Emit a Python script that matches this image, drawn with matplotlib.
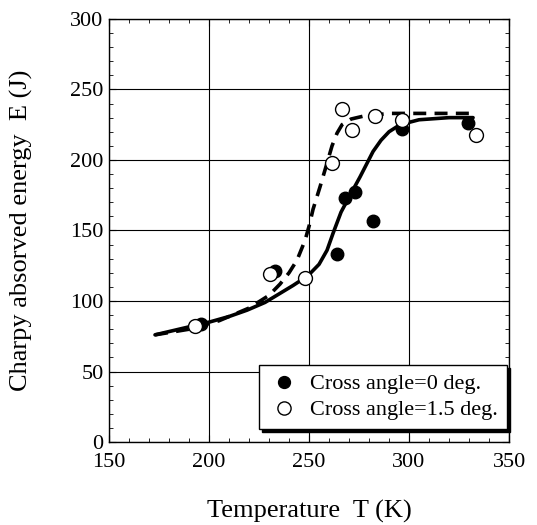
import matplotlib
matplotlib.use("Agg")
import matplotlib.pyplot as plt
from matplotlib.ticker import MultipleLocator

plt.rcParams['font.family'] = ['Liberation Serif', 'DejaVu Serif']

# Data points
T_0deg = [196, 233, 264, 268, 273, 282, 296.5, 329.5]
E_0deg = [84, 121, 133, 173, 177, 157, 222, 226]

T_15deg = [193, 230.5, 248, 261.5, 266.5, 271.5, 283, 296.5, 333.5]
E_15deg = [82, 119, 116, 198, 236, 221, 231, 228, 218]

# Fitted curves
solid_T = [173, 185, 200, 210, 219, 228, 235, 242, 249.5, 255, 259, 262, 266,
           270.5, 275.5, 282, 286, 290, 295.5, 305, 320, 332]
solid_E = [76, 80, 85, 89, 93.5, 99, 105, 111, 118, 126, 136, 148, 163,
           175, 188, 206, 214, 220, 225, 228.5, 230, 230]

dash_T = [173, 190, 205, 220, 230, 235.5, 240, 244, 248, 250, 252, 255.5, 258,
          261.5, 264, 266.5, 271, 277, 290, 310, 332]
dash_E = [76, 80, 86, 95, 104, 112, 120, 129, 143, 153, 165, 181, 193,
          210, 219, 225, 229, 231, 233, 233, 233]

fig = plt.figure(figsize=(5.37, 5.25), dpi=100)
ax = fig.add_axes([0.203, 0.158, 0.745, 0.806])

ax.plot(solid_T, solid_E, color='black', lw=2.6, solid_capstyle='round')
ax.plot(dash_T, dash_E, color='black', lw=2.6, dashes=(3.6, 2.3))

ax.plot(T_0deg, E_0deg, 'o', ms=9, mfc='black', mec='black', mew=1,
        ls='none', label='Cross angle=0 deg.')
ax.plot(T_15deg, E_15deg, 'o', ms=10, mfc='white', mec='black', mew=1,
        ls='none', label='Cross angle=1.5 deg.')

ax.set_xlim(150, 350)
ax.set_ylim(0, 300)
ax.xaxis.set_major_locator(MultipleLocator(50))
ax.xaxis.set_minor_locator(MultipleLocator(10))
ax.yaxis.set_major_locator(MultipleLocator(50))
ax.yaxis.set_minor_locator(MultipleLocator(10))
ax.tick_params(which='both', direction='in', top=True, right=True, labelsize=16)
ax.tick_params(axis='x', which='major', pad=8)
ax.tick_params(axis='y', which='major', pad=4)
ax.tick_params(which='major', length=5, width=0.8)
ax.tick_params(which='minor', length=3, width=0.6)
ax.grid(True, which='major', color='black', lw=0.8)

for s in ax.spines.values():
    s.set_linewidth(1.0)

ax.set_xlabel('Temperature  T (K)', fontsize=19)
ax.set_ylabel('Charpy absorved energy  E (J)', fontsize=19)
ax.xaxis.set_label_coords(0.5, -0.137)
ax.yaxis.set_label_coords(-0.19, 0.5)

leg = ax.legend(loc='lower right', bbox_to_anchor=(0.995, 0.03), borderaxespad=0,
                fontsize=16, frameon=True, fancybox=False,
                shadow={'color': 'black', 'alpha': 1, 'ox': 2, 'oy': -2},
                handletextpad=0.5, borderpad=0.4, labelspacing=0.25, handlelength=1.4,
                markerscale=0.95)
leg.get_frame().set_edgecolor('black')
leg.get_frame().set_linewidth(1.0)

fig.savefig('out.png', dpi=100)
